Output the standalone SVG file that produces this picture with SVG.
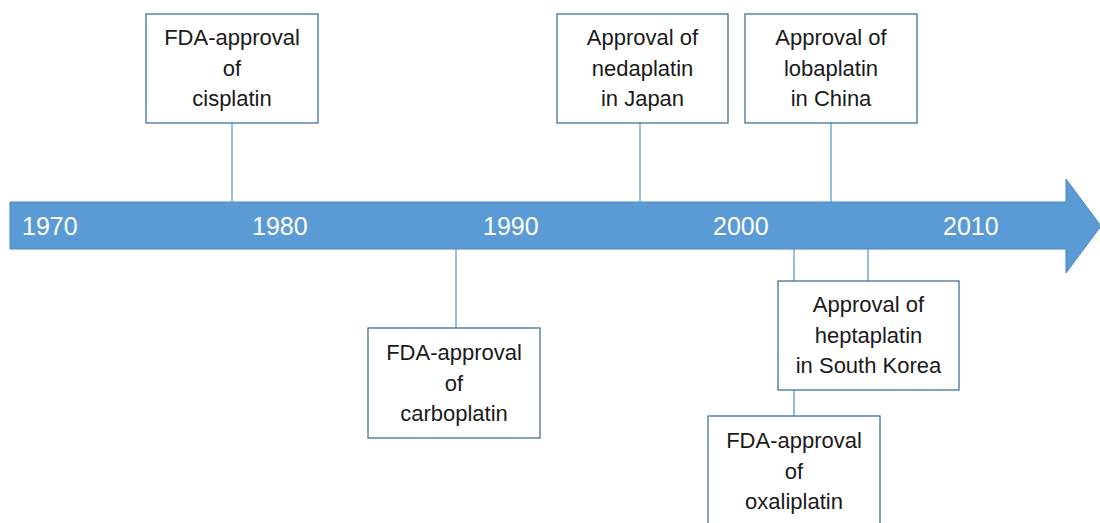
<svg xmlns="http://www.w3.org/2000/svg" width="1100" height="523" viewBox="0 0 1100 523">
<style>
.box{fill:#fff;stroke:#41719C;stroke-width:1.3}
.lbl{font-family:"Liberation Sans",Arial,sans-serif;font-size:22px;fill:#1a1a1a;text-anchor:middle}
.yr{font-family:"Liberation Sans",Arial,sans-serif;font-size:25px;fill:#fff}
.con{stroke:#5B9BD5;stroke-width:1.3;fill:none}
</style>
<rect width="1100" height="523" fill="#fff"/>
<g id="connectors">
<line class="con" x1="232" y1="123" x2="232" y2="202"/>
<line class="con" x1="640" y1="123" x2="640" y2="202"/>
<line class="con" x1="831" y1="123" x2="831" y2="202"/>
<line class="con" x1="456" y1="249" x2="456" y2="328"/>
<line class="con" x1="794" y1="249" x2="794" y2="281"/>
<line class="con" x1="868" y1="249" x2="868" y2="281"/>
<line class="con" x1="794" y1="390" x2="794" y2="416"/>
</g>
<g id="timeline">
<polygon points="10,202 1066,202 1066,179 1101,226 1066,273 1066,249 10,249" fill="#5B9BD5" stroke="#4F88BE" stroke-width="1"/>
<text class="yr" x="22" y="235">1970</text>
<text class="yr" x="252" y="235">1980</text>
<text class="yr" x="483" y="235">1990</text>
<text class="yr" x="713" y="235">2000</text>
<text class="yr" x="943" y="235">2010</text>
</g>
<g id="cisplatin">
<rect class="box" x="146" y="14" width="172" height="109"/>
<text class="lbl" x="232" y="45">FDA-approval</text>
<text class="lbl" x="232" y="76">of</text>
<text class="lbl" x="232" y="106">cisplatin</text>
</g>
<g id="nedaplatin">
<rect class="box" x="557" y="14" width="171" height="109"/>
<text class="lbl" x="642.5" y="45">Approval of</text>
<text class="lbl" x="642.5" y="76">nedaplatin</text>
<text class="lbl" x="642.5" y="106">in Japan</text>
</g>
<g id="lobaplatin">
<rect class="box" x="745" y="14" width="172" height="109"/>
<text class="lbl" x="831" y="45">Approval of</text>
<text class="lbl" x="831" y="76">lobaplatin</text>
<text class="lbl" x="831" y="106">in China</text>
</g>
<g id="carboplatin">
<rect class="box" x="368" y="328" width="172" height="110"/>
<text class="lbl" x="454" y="360">FDA-approval</text>
<text class="lbl" x="454" y="391">of</text>
<text class="lbl" x="454" y="421">carboplatin</text>
</g>
<g id="heptaplatin">
<rect class="box" x="778" y="281" width="181" height="109"/>
<text class="lbl" x="868.5" y="312">Approval of</text>
<text class="lbl" x="868.5" y="343">heptaplatin</text>
<text class="lbl" x="868.5" y="373">in South Korea</text>
</g>
<g id="oxaliplatin">
<rect class="box" x="708" y="416" width="172" height="120"/>
<text class="lbl" x="794" y="448">FDA-approval</text>
<text class="lbl" x="794" y="479">of</text>
<text class="lbl" x="794" y="509">oxaliplatin</text>
</g>
</svg>
